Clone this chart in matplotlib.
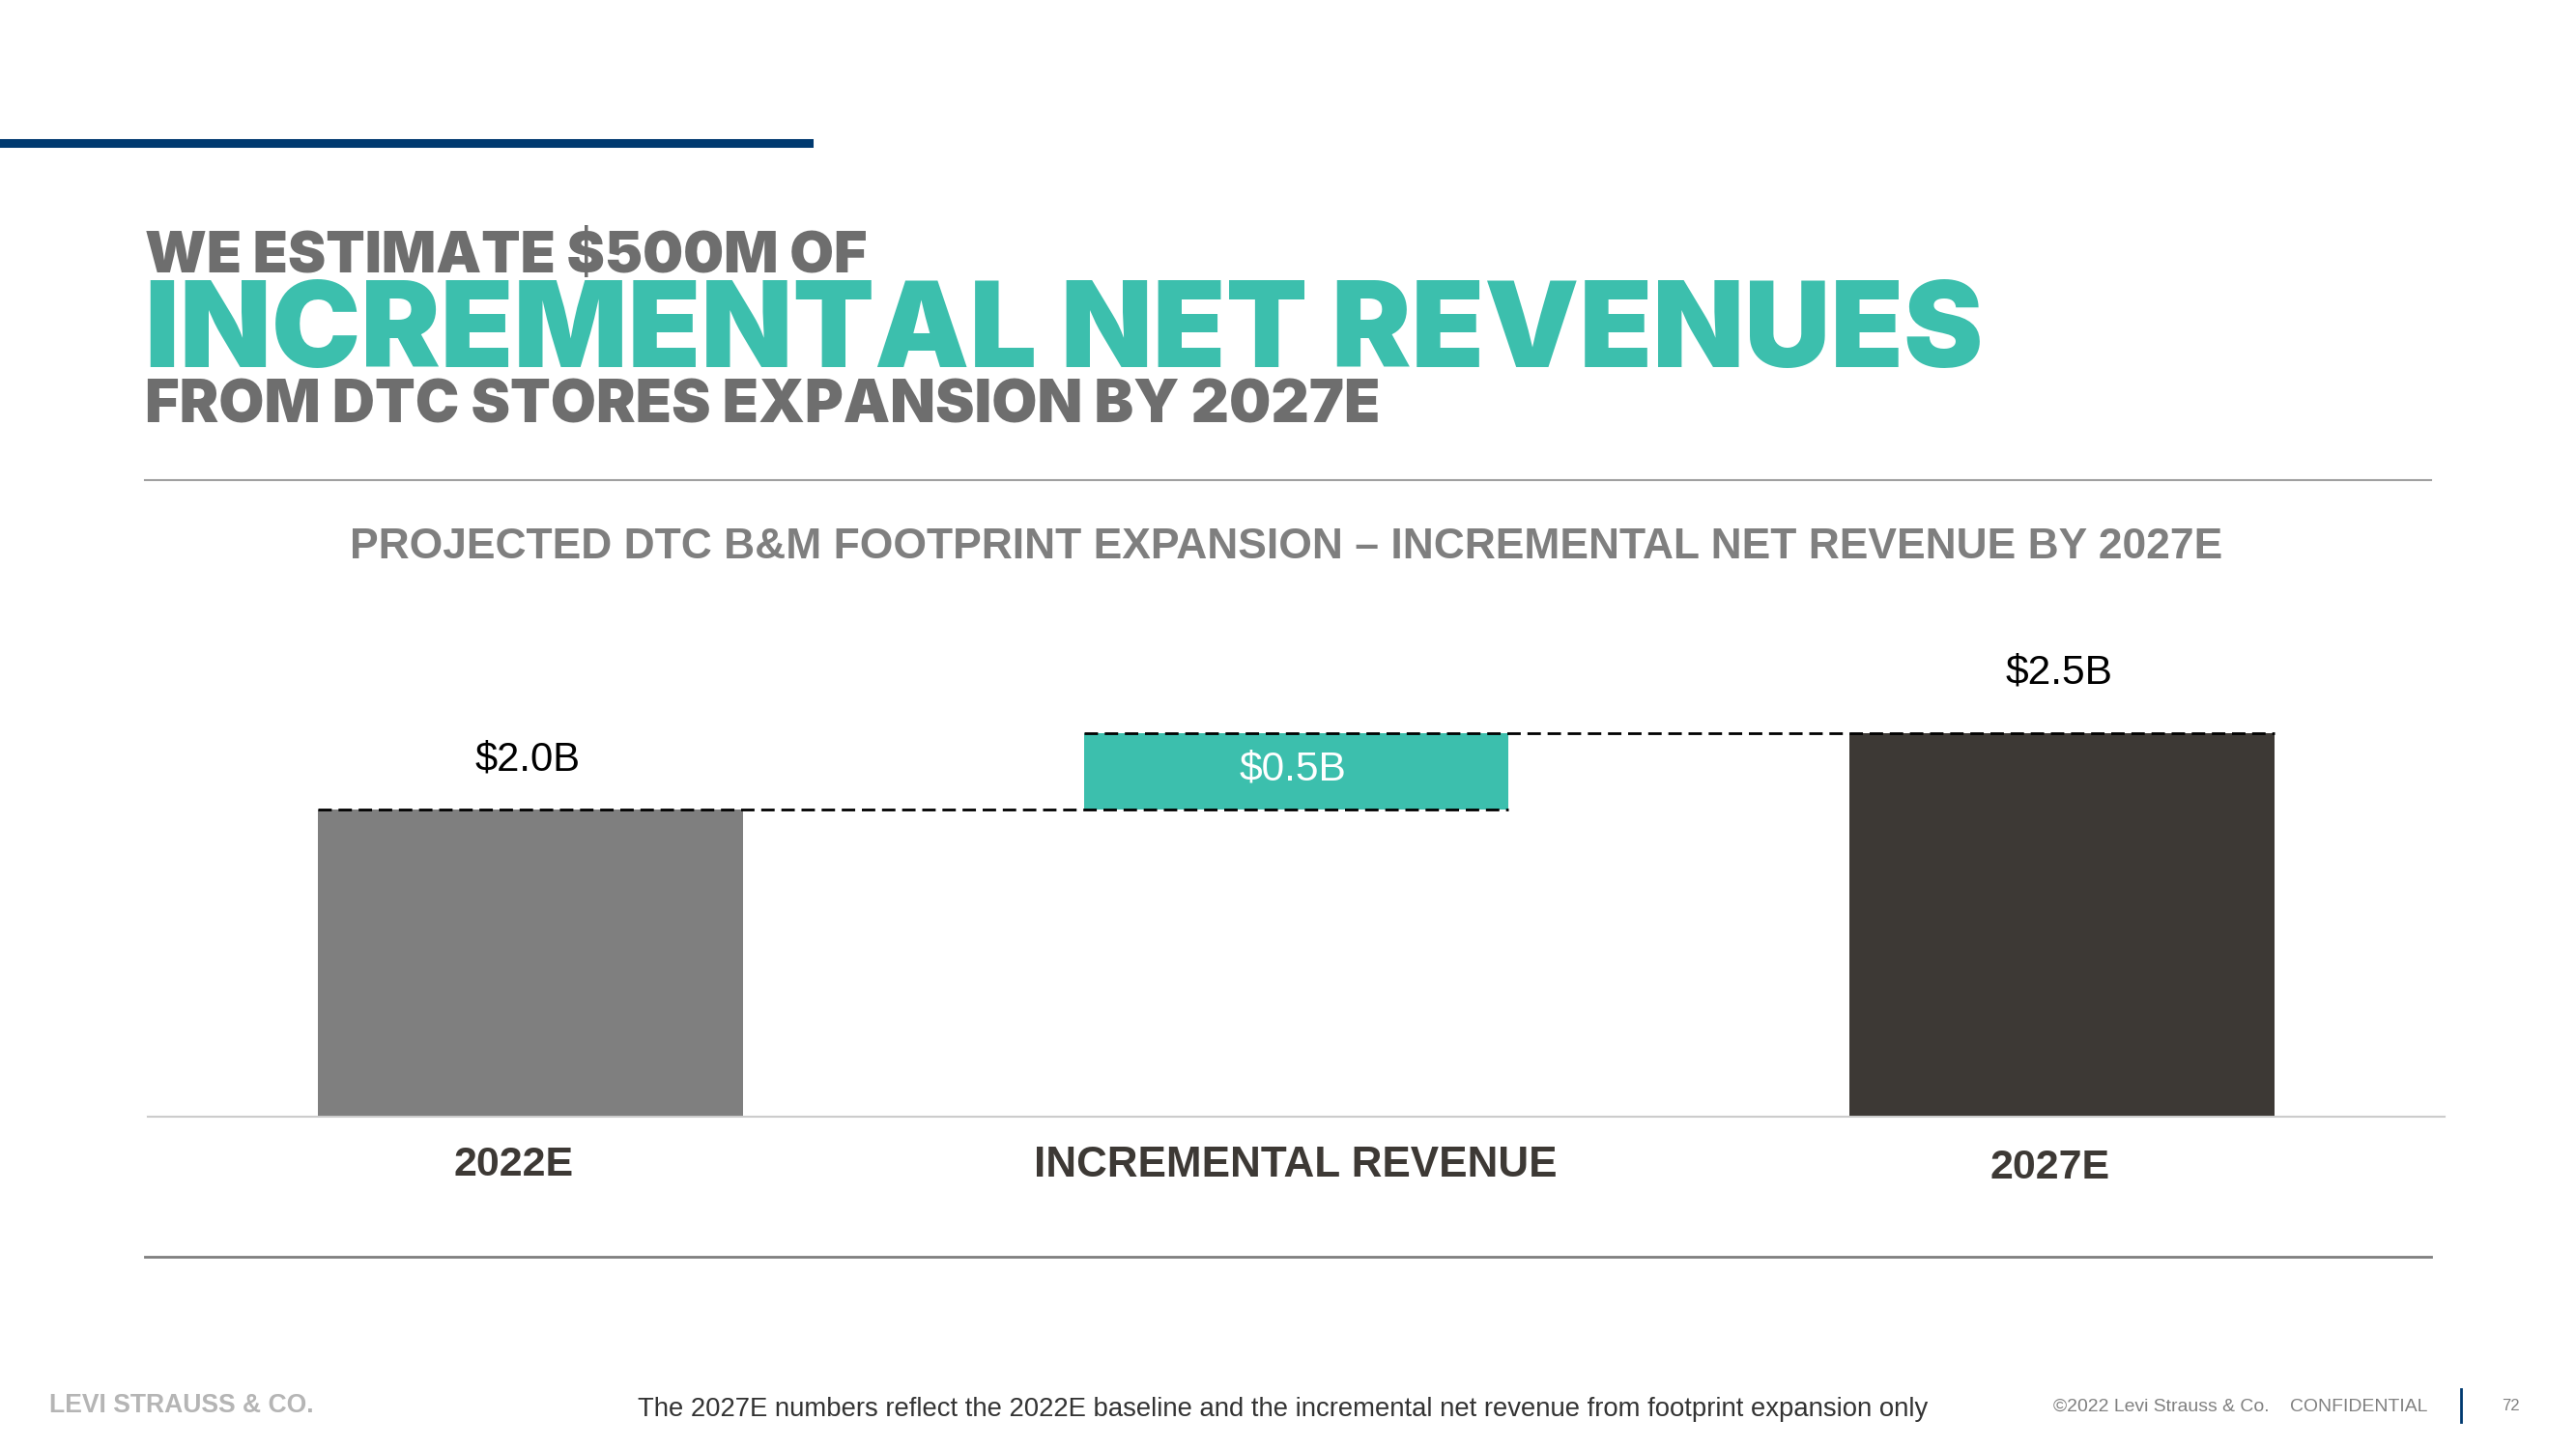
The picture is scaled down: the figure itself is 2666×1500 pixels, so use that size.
import matplotlib
matplotlib.use("Agg")
import matplotlib.pyplot as plt
from matplotlib import font_manager

W, H = 2666, 1500

# data
categories = ["2022E", "INCREMENTAL REVENUE", "2027E"]
values = [2.0, 0.5, 2.5]
bottoms = [0.0, 2.0, 0.0]
value_labels = ["$2.0B", "$0.5B", "$2.5B"]
bar_colors = ["#7f7f7f", "#3cbfad", "#3d3935"]
label_colors = ["#000000", "#ffffff", "#000000"]

names = {f.name for f in font_manager.fontManager.ttflist}
heavy = [f for f in font_manager.fontManager.ttflist if f.weight in (800, 900, "black", "heavy")]
HEAVY_FAMILY = heavy[0].name if heavy else "DejaVu Sans"
NARROW = "Liberation Sans Narrow" if "Liberation Sans Narrow" in names else "Liberation Sans"

fig = plt.figure(figsize=(W / 100, H / 100), dpi=100)
fig.patch.set_facecolor("white")


def px(x, y):
    return x / W, 1 - y / H


def fit_text(x, y, s, width, **kw):
    t = fig.text(*px(x, y), s, **kw)
    r = fig.canvas.get_renderer()
    w = t.get_window_extent(r).width
    t.set_fontsize(t.get_fontsize() * width / w)
    return t


# header
fig.add_artist(plt.Line2D([0, 837 / W], [1 - 148 / H] * 2, color="#003a70", lw=6.5))
fit_text(150, 282, "WE ESTIMATE $500M OF", 748, fontsize=40, family=HEAVY_FAMILY,
         weight="black", color="#6e6e6e", va="baseline")
fit_text(150, 380, "INCREMENTAL NET REVENUES", 1904, fontsize=80, family=HEAVY_FAMILY,
         weight="black", color="#3cbfad", va="baseline")
fit_text(150, 438, "FROM DTC STORES EXPANSION BY 2027E", 1278, fontsize=40, family=HEAVY_FAMILY,
         weight="black", color="#6e6e6e", va="baseline")

fig.add_artist(plt.Line2D([150 / W, 2516 / W], [1 - 497 / H] * 2, color="#a0a0a0", lw=1.5))
fit_text(1331, 566, "PROJECTED DTC B&M FOOTPRINT EXPANSION \u2013 INCREMENTAL NET REVENUE BY 2027E",
         1931, fontsize=26, family=NARROW, weight="bold", color="#7f7f7f",
         ha="center", va="center")

# chart
ax = fig.add_axes([153 / W, 1 - 1156 / H, (2530 - 153) / W, (1156 - 600) / H])
x = list(range(len(categories)))
ax.bar(x, values, bottom=bottoms, width=0.555, color=bar_colors, zorder=2)
ax.set_xlim(-0.5, 2.5)
ax.set_ylim(0, 3.5)
for s in ["top", "left", "right"]:
    ax.spines[s].set_visible(False)
ax.spines["bottom"].set_color("#cccccc")
ax.spines["bottom"].set_linewidth(1.5)
ax.set_yticks([])
ax.set_xticks([])

hw = 0.555 / 2
ax.plot([x[0] - hw, x[1] + hw], [values[0]] * 2, ls=(0, (5, 2.5)), color="black", lw=2, zorder=3)
ax.plot([x[1] - hw, x[2] + hw], [bottoms[1] + values[1]] * 2, ls=(0, (5, 2.5)), color="black",
        lw=2, zorder=3)

label_pos = [(546, 787, 109), (1338, 797, 111), (2131, 697, 111)]
for (lx, ly, lw_), s, c in zip(label_pos, value_labels, label_colors):
    fit_text(lx, ly, s, lw_, fontsize=28, family=NARROW, color=c, ha="center", va="center",
             zorder=5)

cat_pos = [(532, 1206, 124), (1341, 1206, 541), (2122, 1209, 124)]
for (cx, cy, cw), s in zip(cat_pos, categories):
    fit_text(cx, cy, s, cw, fontsize=28, family=NARROW, weight="bold", color="#3d3935",
             ha="center", va="center")

fig.add_artist(plt.Line2D([150 / W, 2516 / W], [1 - 1301 / H] * 2, color="#7f7f7f", lw=2))

# footer
fit_text(51, 1455, "LEVI STRAUSS & CO.", 275, fontsize=16, family=NARROW, weight="bold",
         color="#b5b5b5", va="center")
fit_text(1328, 1459, "The 2027E numbers reflect the 2022E baseline and the incremental net revenue "
         "from footprint expansion only", 1340, fontsize=18, family=NARROW, color="#333333",
         ha="center", va="center")
fit_text(2125, 1456, "\u00a92022 Levi Strauss & Co.    CONFIDENTIAL", 388, fontsize=12,
         family=NARROW, color="#808080", va="center")
fig.add_artist(plt.Line2D([2547 / W] * 2, [1 - 1438 / H, 1 - 1472 / H], color="#003a70", lw=2))
fig.text(*px(2598, 1456), "72", fontsize=12, family=NARROW, color="#808080", ha="center",
         va="center")

fig.savefig("out.png", dpi=100)
